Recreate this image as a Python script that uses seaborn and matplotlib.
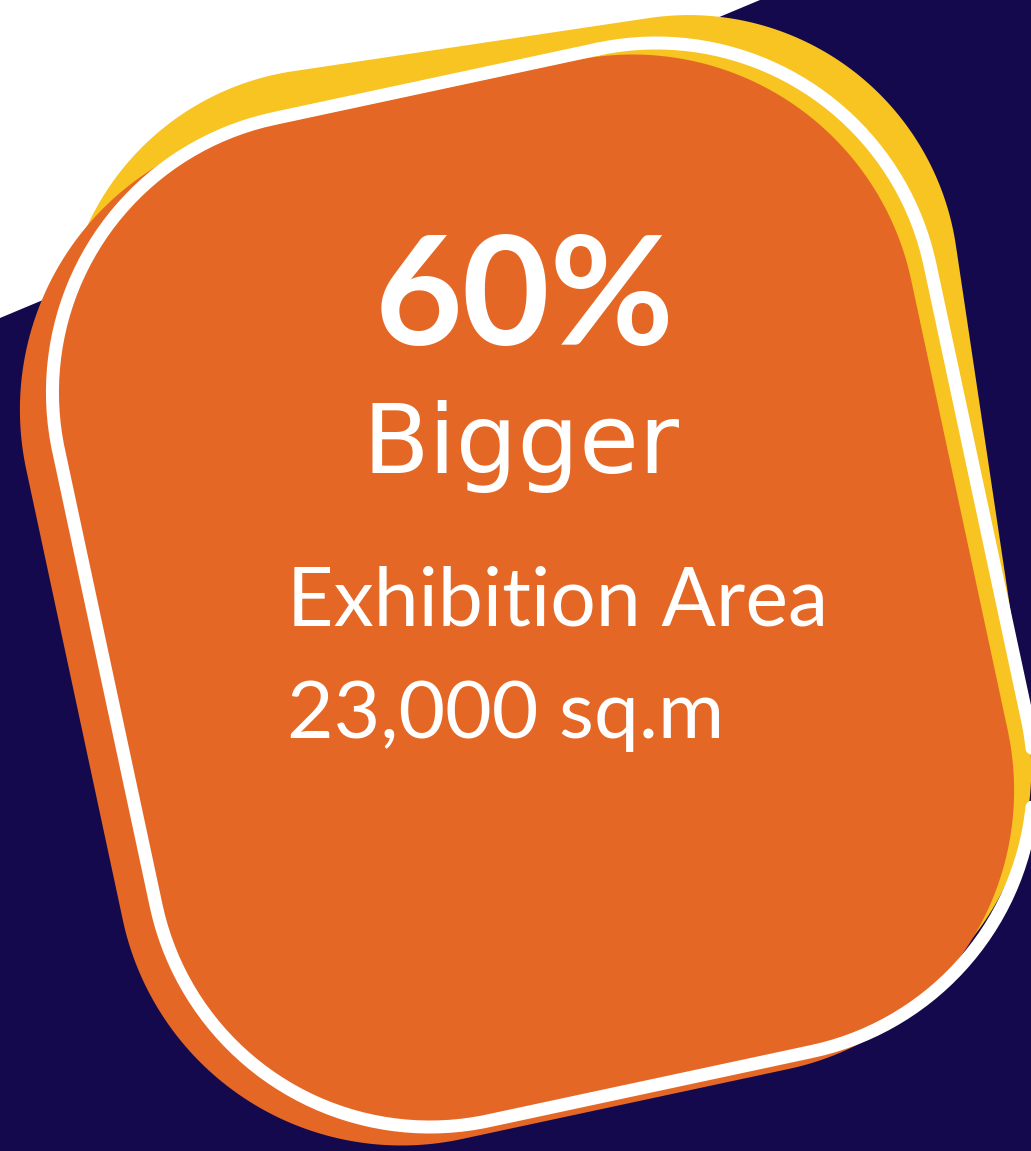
import numpy as np
import pandas as pd
import matplotlib.pyplot as plt
import seaborn as sns

# text content of the card
headline_value = 60
headline_unit = "%"
subtitle = "Bigger"
detail_lines = ["Exhibition Area", "23,000 sq.m"]

NAVY = "#13094c"
ORANGE = "#e56725"
YELLOW = "#f8c421"
WHITE = "#ffffff"

W_PX, H_PX = 1031, 1151


def rounded_rect(cx, cy, w, h, r, angle_deg, n=80):
    """Rounded rectangle outline in image coords (y down), rotated counter-clockwise on screen."""
    hw, hh = w / 2 - r, h / 2 - r
    parts = []
    for ox, oy, a0 in [(hw, -hh, -90), (hw, hh, 0), (-hw, hh, 90), (-hw, -hh, 180)]:
        t = np.radians(np.linspace(a0, a0 + 90, n))
        parts.append(np.column_stack([ox + r * np.cos(t), oy + r * np.sin(t)]))
    pts = np.vstack(parts + [parts[0][:1]])
    th = np.radians(angle_deg)
    u = np.array([np.cos(th), -np.sin(th)])
    v = np.array([np.sin(th), np.cos(th)])
    xy = pts[:, :1] * u + pts[:, 1:] * v
    return xy[:, 0] + cx, xy[:, 1] + cy


def fit_text(ax, fig, x, y, s, width_px, **kw):
    # size the text so that it spans the wanted pixel width
    t = ax.text(x, y, s, fontsize=50, **kw)
    fig.canvas.draw()
    w = t.get_window_extent(renderer=fig.canvas.get_renderer()).width
    t.set_fontsize(50 * width_px / w)
    return t


def main():
    sns.set_theme(style="white")
    fig = plt.figure(figsize=(W_PX / 100, H_PX / 100), dpi=100)
    ax = fig.add_axes([0, 0, 1, 1])
    fig.patch.set_facecolor(WHITE)

    # navy backdrop with white wedge top-left
    ax.fill([760, W_PX, W_PX, 0, 0], [0, 0, H_PX, H_PX, 318], color=NAVY, lw=0, zorder=0)

    # yellow card behind
    yx, yy = rounded_rect(547, 554, 900, 1030, 270, 8.5)
    ax.fill(yx, yy, color=YELLOW, lw=0, zorder=1)

    # orange card
    ox, oy = rounded_rect(517, 600, 905, 1031, 285, 12.1)
    ax.fill(ox, oy, color=ORANGE, lw=0, zorder=2)

    # white outline
    wx, wy = rounded_rect(543, 585, 891, 1025, 280, 12.1)
    outline = pd.DataFrame({"x": wx, "y": wy})
    sns.lineplot(data=outline, x="x", y="y", sort=False, estimator=None,
                 color=WHITE, linewidth=13 * 0.72, ax=ax, legend=False, zorder=3)

    ax.set_xlim(0, W_PX)
    ax.set_ylim(H_PX, 0)
    ax.axis("off")

    fit_text(ax, fig, 525, 345, f"{headline_value}{headline_unit}", 300,
             color=WHITE, ha="center", va="baseline", fontweight="bold",
             family=["Lato", "Roboto"], zorder=5)
    fit_text(ax, fig, 521, 473, subtitle, 318,
             color=WHITE, ha="center", va="baseline", family="DejaVu Sans", zorder=5)
    fit_text(ax, fig, 287, 625, detail_lines[0], 541,
             color=WHITE, ha="left", va="baseline", family="Lato", zorder=5)
    fit_text(ax, fig, 287, 738, detail_lines[1], 438,
             color=WHITE, ha="left", va="baseline", family="Lato", zorder=5)

    fig.savefig("out.png", dpi=100)


if __name__ == "__main__":
    main()
